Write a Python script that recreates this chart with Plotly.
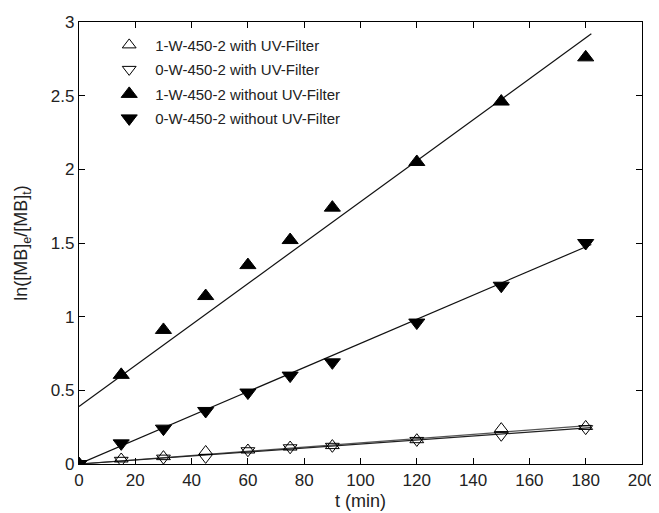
import plotly.graph_objects as go

# ---- data ----
t_min = [0, 15, 30, 45, 60, 75, 90, 120, 150, 180]
w1_with_filter = [0, 0.034, 0.05, 0.085, 0.095, 0.115, 0.125, 0.165, 0.24, 0.255]
w0_with_filter = [0, 0.025, 0.04, 0.045, 0.09, 0.11, 0.12, 0.16, 0.195, 0.24]
w1_without_filter = [0, 0.605, 0.91, 1.14, 1.35, 1.52, 1.74, 2.05, 2.46, 2.76]
w0_without_filter = [0, 0.14, 0.24, 0.36, 0.485, 0.6, 0.69, 0.96, 1.21, 1.50]

# fitted straight lines (end points)
fit_t = [0, 182]
fit_w1_with = [0, 0.262]
fit_w0_with = [0, 0.247]
fit_w1_without = [0.39, 2.92]
fit_w0_without = [0, 1.49]

names = ["1-W-450-2 with UV-Filter", "0-W-450-2 with UV-Filter",
         "1-W-450-2 without UV-Filter", "0-W-450-2 without UV-Filter"]

FONT = "Liberation Sans, Arial, sans-serif"
TXT = "#222222"

fig = go.Figure()

# fit lines
for ys, col in [(fit_w1_with, "#555555"), (fit_w0_with, "#222222"),
                (fit_w1_without, "#111111"), (fit_w0_without, "#111111")]:
    fig.add_trace(go.Scatter(x=fit_t, y=ys, mode="lines",
                             line=dict(color=col, width=1.2),
                             showlegend=False, hoverinfo="skip"))

# markers
specs = [
    (w1_with_filter, "triangle-up-open", 12),
    (w0_with_filter, "triangle-down-open", 12),
    (w1_without_filter, "triangle-up", 14),
    (w0_without_filter, "triangle-down", 14),
]
for i, (ys, sym, sz) in enumerate(specs):
    fig.add_trace(go.Scatter(
        x=t_min, y=ys, mode="markers", name=names[i],
        legendgroup=f"g{i}",
        marker=dict(symbol=sym, size=sz, color="black",
                    line=dict(color="black", width=1)),
    ))

axis_common = dict(
    showline=True, linecolor="black", linewidth=1.3, mirror="ticks",
    ticks="inside", ticklen=6, tickwidth=1, tickcolor="black",
    showgrid=False, zeroline=False, automargin=False,
    tickfont=dict(family=FONT, size=17, color=TXT),
)

# the page adds an 8px body margin, so the figure is drawn 8px in from the corner
fig.update_layout(
    width=651, height=505,
    margin=dict(l=71, r=17, t=14, b=49),
    plot_bgcolor="white", paper_bgcolor="white",
    font=dict(family=FONT, color=TXT),
    xaxis=dict(range=[0, 200], dtick=20, tick0=0,
               title=dict(text="t (min)", font=dict(family=FONT, size=18, color=TXT),
                          standoff=5),
               **axis_common),
    yaxis=dict(range=[0, 3], dtick=0.5, tick0=0,
               title=dict(text="ln([MB]<sub>e</sub>/[MB]<sub>t</sub>)",
                          font=dict(family=FONT, size=18, color=TXT), standoff=18),
               **axis_common),
    legend=dict(x=0.043, y=0.985, xanchor="left", yanchor="top",
                bgcolor="rgba(0,0,0,0)", borderwidth=0,
                font=dict(family=FONT, size=15, color=TXT),
                tracegroupgap=2, itemwidth=42),
    showlegend=True,
)

fig.write_html("out.html")
